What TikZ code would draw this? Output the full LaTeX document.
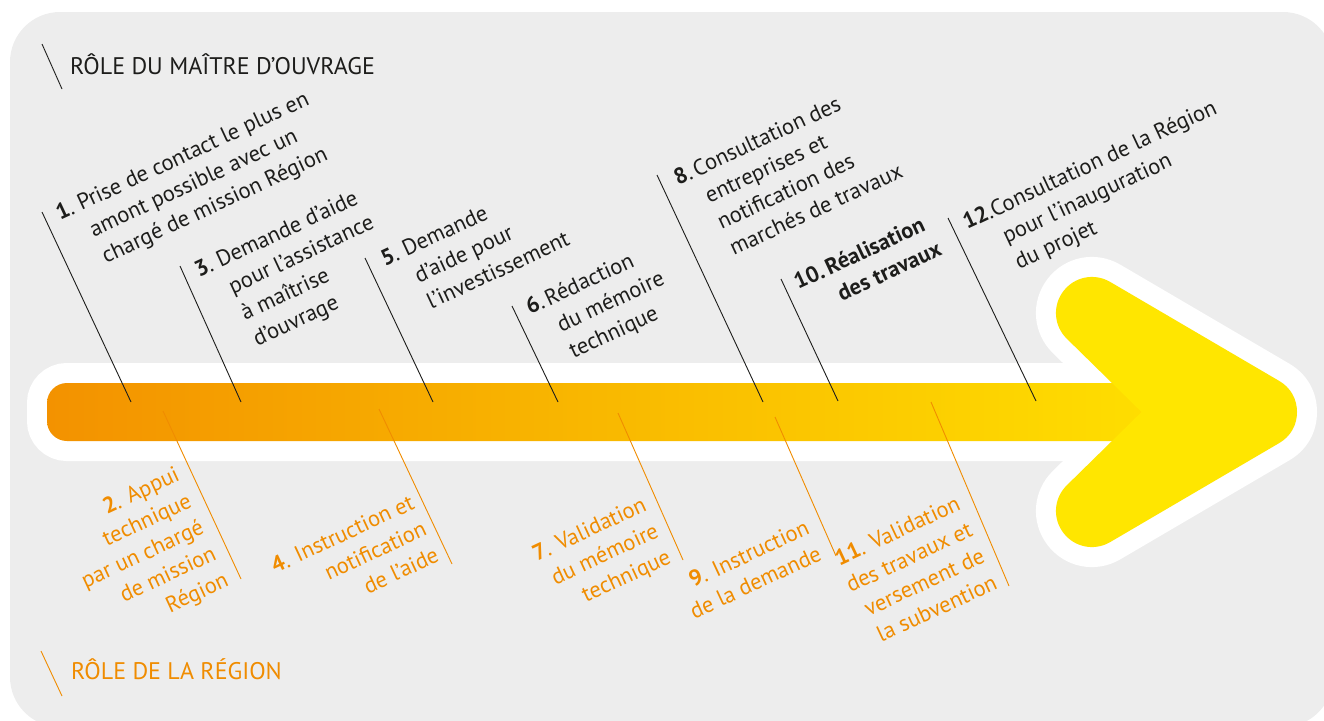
\documentclass[tikz,border=0pt]{standalone}
\usepackage{fontspec}
\setmainfont{PT Sans}
\definecolor{bg}{HTML}{EDEDED}
\definecolor{ink}{HTML}{1D1D1B}
\definecolor{orng}{HTML}{F08C00}
\definecolor{shaftL}{HTML}{F39200}
\definecolor{shaftM}{HTML}{FCBE00}
\definecolor{shaftR}{HTML}{FFE000}
\definecolor{headY}{HTML}{FFE600}
\begin{document}
\begin{tikzpicture}[x=1pt,y=-1pt,
  toplab/.style={rotate=25, anchor=base west, inner sep=0pt, text=ink, font=\fontsize{22.5}{29}\selectfont},
  botlab/.style={rotate=25, anchor=base east, inner sep=0pt, text=orng, font=\fontsize{22.5}{29}\selectfont},
  leader/.style={draw=ink, line width=0.9pt},
  oleader/.style={draw=orng, line width=0.9pt},
  header/.style={anchor=base west, inner sep=0pt, font=\fontsize{24}{28}\selectfont}]
\useasboundingbox (0,0) rectangle (1324,720);
% background panel
\fill[bg, rounded corners=50pt] (10,12) rectangle (1333,727);
% arrow: white outline
\draw[white, line width=40pt, rounded corners=20pt] (47,383) rectangle (1180,441);
\filldraw[white, line width=112pt, line join=round] (1092,313) -- (1261,412) -- (1092,511) -- (1193,412) -- cycle;
% arrow: coloured body
\shade[left color=shaftL, middle color=shaftM, right color=shaftR, rounded corners=20pt] (47,383) rectangle (1180,441);
\filldraw[fill=headY, draw=headY, line width=72pt, line join=round] (1092,313) -- (1261,412) -- (1092,511) -- (1193,412) -- cycle;

% headers
\node[header, text=ink] (hmo) at (70,74) {RÔLE DU MAÎTRE D’OUVRAGE};
\coordinate (hmoA) at (42,44);
\coordinate (hmoB) at (62,89);
\draw[leader] (hmoA) -- (hmoB);
\node[header, text=orng] (hreg) at (71,679) {RÔLE DE LA RÉGION};
\coordinate (hregA) at (41,651);
\coordinate (hregB) at (62,696);
\draw[oleader] (hregA) -- (hregB);

% top labels (maître d'ouvrage)
\node[toplab] (l1) at (60,221) {\begin{tabular}[t]{@{}l@{\ }l@{}}\textbf{1}. & Prise de contact le plus en\\ & amont possible avec un\\ & chargé de mission Région\end{tabular}};
\node[toplab] (l3) at (199,278) {\begin{tabular}[t]{@{}l@{\ }l@{}}\textbf{3}. & Demande d’aide\\ & pour l’assistance\\ & à maîtrise\\ & d’ouvrage\end{tabular}};
\node[toplab] (l5) at (385,267) {\begin{tabular}[t]{@{}l@{\ }l@{}}\textbf{5}. & Demande\\ & d’aide pour\\ & l’investissement\end{tabular}};
\node[toplab] (l6) at (530,315) {\begin{tabular}[t]{@{}l@{\hspace{0.15em}}l@{}}\textbf{6}. & Rédaction\\ & du mémoire\\ & technique\end{tabular}};
\node[toplab] (l8) at (678,186) {\begin{tabular}[t]{@{}l@{\hspace{0.15em}}l@{}}\textbf{8}. & Consultation des\\ & entreprises et\\ & notification des\\ & marchés de travaux\end{tabular}};
\node[toplab] (l10) at (798,290) {\bfseries\begin{tabular}[t]{@{}l@{\,}l@{}}10. & Réalisation\\ & des travaux\end{tabular}};
\node[toplab] (l12) at (967,230) {\begin{tabular}[t]{@{}l@{}l@{}}\textbf{12}. & Consultation de la Région\\ & pour l’inauguration\\ & du projet\end{tabular}};

% top leader lines
\coordinate (t1a) at (42,212);   \coordinate (t1b) at (131,402);
\coordinate (t3a) at (180,266);  \coordinate (t3b) at (241,402);
\coordinate (t5a) at (365,258);  \coordinate (t5b) at (433,402);
\coordinate (t6a) at (512,306);  \coordinate (t6b) at (558,402);
\coordinate (t8a) at (657,175);  \coordinate (t8b) at (763,402);
\coordinate (t10a) at (781,279); \coordinate (t10b) at (838,401);
\coordinate (t12a) at (948,218); \coordinate (t12b) at (1036,401);
\foreach \i in {1,3,5,6,8,10,12} {\draw[leader] (t\i a) -- (t\i b);}

% bottom labels (Région)
\node[botlab] (l2) at (181,480) {\begin{tabular}[t]{@{}r@{}}\textbf{2}. Appui\\ technique\\ par un chargé\\ de mission\\ Région\end{tabular}};
\node[botlab] (l4) at (416,508) {\begin{tabular}[t]{@{}r@{}}\textbf{4}. Instruction et\\ notification\\ de l’aide\end{tabular}};
\node[botlab] (l7) at (648,510) {\begin{tabular}[t]{@{}r@{}}\textbf{7}. Validation\\ du mémoire\\ technique\end{tabular}};
\node[botlab] (l9) at (811,533) {\begin{tabular}[t]{@{}r@{}}\textbf{9}. Instruction\\ de la demande\end{tabular}};
\node[botlab] (l11) at (962,509) {\begin{tabular}[t]{@{}r@{}}\textbf{11}. Validation\\ des travaux et\\ versement de\\ la subvention\end{tabular}};

% bottom leader lines
\coordinate (b2a) at (163,411);  \coordinate (b2b) at (241,579);
\coordinate (b4a) at (379,409);  \coordinate (b4b) at (452,564);
\coordinate (b7a) at (618,413);  \coordinate (b7b) at (683,560);
\coordinate (b9a) at (775,417);  \coordinate (b9b) at (836,556);
\coordinate (b11a) at (931,402); \coordinate (b11b) at (1009,586);
\foreach \i in {2,4,7,9,11} {\draw[oleader] (b\i a) -- (b\i b);}
\end{tikzpicture}
\end{document}
